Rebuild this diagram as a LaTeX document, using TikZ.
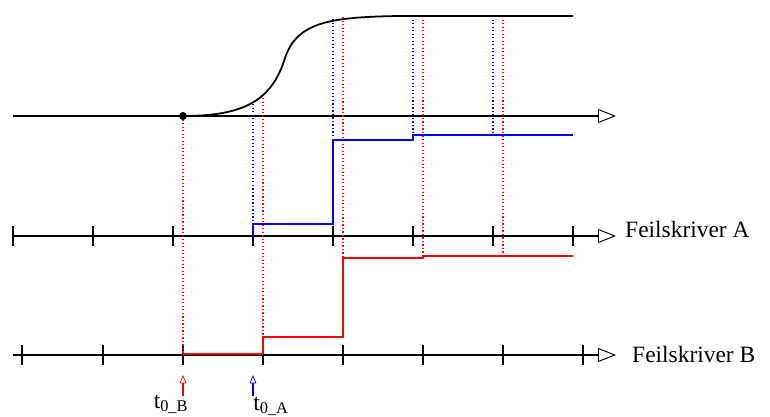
\documentclass[tikz,border=0pt]{standalone}
\usepackage{fontspec}
\setmainfont{Liberation Serif}
\usetikzlibrary{arrows.meta}

\begin{document}
\begin{tikzpicture}[
    x=0.03cm,
    y=-0.03cm,
    axis/.style={
        line width=1.2pt,
        -{Triangle[open, length=0.54cm, width=0.42cm, line width=0.8pt]}
    },
    tickmark/.style={line width=1.2pt},
    curve/.style={line width=1.5pt},
    stepA/.style={blue, line width=1.4pt},
    stepB/.style={red, line width=1.4pt},
    guideA/.style={blue, dotted, line width=1pt},
    guideB/.style={red, dotted, line width=1pt},
    startarrow/.style={
        line width=1.1pt,
        -{Triangle[open, length=0.25cm, width=0.2cm, line width=0.6pt]}
    },
    lab/.style={
        font=\fontsize{20}{24}\selectfont,
        inner sep=0pt
    }
]

\useasboundingbox (0,0) rectangle (770,417);

%------------------------------------------------
% Axes
%------------------------------------------------
\coordinate (top0) at (13,116);
\coordinate (top1) at (616,116);
\coordinate (a0)   at (13,236);
\coordinate (a1)   at (616,236);
\coordinate (b0)   at (13,355);
\coordinate (b1)   at (616,355);

\draw[axis] (top0) -- (top1);
\draw[axis] (a0) -- (a1);
\draw[axis] (b0) -- (b1);

\foreach \x in {13,93,173,253,333,413,493,573}
    \draw[tickmark] (\x,226) -- (\x,246);
\foreach \x in {22,103,183,263,343,423,503,583}
    \draw[tickmark] (\x,345) -- (\x,365);

\node[lab, anchor=base west] (labA) at (625,237) {Feilskriver A};
\node[lab, anchor=base west] (labB) at (632,362) {Feilskriver B};

%------------------------------------------------
% Dotted guides
%------------------------------------------------
\draw[guideB] (183,116) -- (183,355);
\draw[guideA] (253,104) -- (253,224);
\draw[guideB] (263,98)  -- (263,337);
\draw[guideA] (333,19)  -- (333,140);
\draw[guideB] (343,17)  -- (343,258);
\draw[guideA] (413,16)  -- (413,135);
\draw[guideB] (423,16)  -- (423,256);
\draw[guideA] (493,16)  -- (493,135);
\draw[guideB] (503,16)  -- (503,256);

%------------------------------------------------
% Curve and steps
%------------------------------------------------
\coordinate (start) at (183,116);

\draw[curve] (start) .. controls (245,116) and (272,100) .. (285,58)
    .. controls (297,22) and (330,17) .. (400,16) -- (573,16);
\fill (start) circle (0.12cm);

\draw[stepA] (253,236) -- (253,224) -- (333,224) -- (333,140)
    -- (413,140) -- (413,135) -- (573,135);

\draw[red, line width=2.2pt] (183,354) -- (263,354);
\draw[stepB] (263,354) -- (263,337) -- (343,337) -- (343,258)
    -- (423,258) -- (423,256) -- (573,256);

%------------------------------------------------
% Start times
%------------------------------------------------
\node[lab, anchor=base] (t0B) at (171,408) {t\textsubscript{0\_B}};
\node[lab, anchor=base] (t0A) at (271,410) {t\textsubscript{0\_A}};

\coordinate (tipB) at (183,375);
\coordinate (tipA) at (253,375);

\draw[startarrow, red]  (t0B.north -| tipB) ++(0,1) -- (tipB);
\draw[startarrow, blue] (t0A.north -| tipA) ++(0,-1) -- (tipA);

\end{tikzpicture}
\end{document}
